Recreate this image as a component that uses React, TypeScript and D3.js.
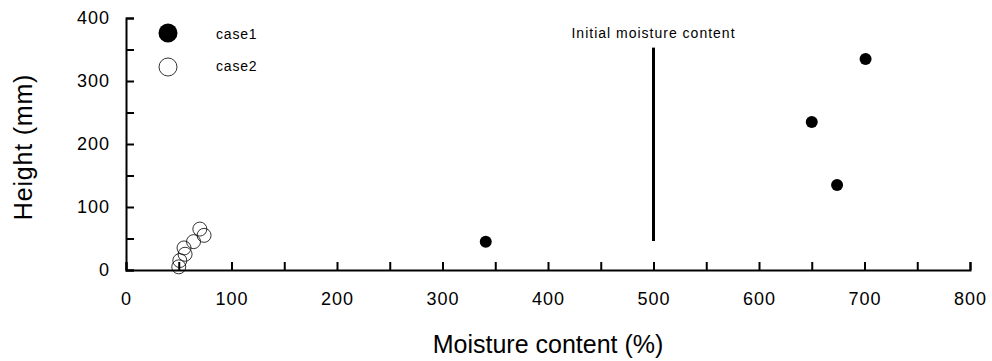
import { useEffect, useRef } from 'react'
import * as d3 from 'd3'

// case1 (filled) and case2 (open) measurements
const case1Moisture = [341, 650, 674, 701]
const case1Height = [45, 235, 135, 335]
const case2Moisture = [50, 51, 56, 55, 64, 70, 74]
const case2Height = [5, 15, 25, 35, 45, 65, 55]

const xTicks = [0, 50, 100, 150, 200, 250, 300, 350, 400, 450, 500, 550, 600, 650, 700, 750, 800]
const yTicks = [0, 50, 100, 150, 200, 250, 300, 350, 400]

const initialMoisture = 500
const initialLineRange = [46, 353]

export default function App() {
  const svgRef = useRef<SVGSVGElement>(null)

  useEffect(() => {
    const width = 992
    const height = 361
    const margin = { top: 18, right: 22, bottom: 91, left: 126 }
    const font = 'Arial, "Liberation Sans", sans-serif'

    const svg = d3.select(svgRef.current)
      .attr('width', width)
      .attr('height', height)
    svg.selectAll('*').remove()

    const x = d3.scaleLinear().domain([0, 800]).range([margin.left, width - margin.right])
    const y = d3.scaleLinear().domain([0, 400]).range([height - margin.bottom, margin.top])

    const g = svg.append('g')

    // X axis
    const xAxis = g.append('g')
      .attr('transform', `translate(0,${y(0)})`)
      .call(d3.axisBottom(x).tickValues(xTicks).tickSize(-8).tickPadding(22)
        .tickFormat(d => (+d % 100 === 0 ? String(d) : '')))
    xAxis.select('.domain').attr('stroke', '#000').attr('stroke-width', 2)
    xAxis.selectAll('line').attr('stroke', '#000').attr('stroke-width', 2)
    xAxis.selectAll('text')
      .attr('font-family', font).attr('font-size', 18).attr('fill', '#000')
      .attr('letter-spacing', 1)

    // Y axis
    const yAxis = g.append('g')
      .attr('transform', `translate(${x(0)},0)`)
      .call(d3.axisLeft(y).tickValues(yTicks).tickSize(-8).tickPadding(16)
        .tickFormat(d => (+d % 100 === 0 ? String(d) : '')))
    yAxis.select('.domain').attr('stroke', '#000').attr('stroke-width', 2)
    yAxis.selectAll('line').attr('stroke', '#000').attr('stroke-width', 2)
    yAxis.selectAll('text')
      .attr('font-family', font).attr('font-size', 18).attr('fill', '#000')
      .attr('letter-spacing', 1)

    // Axis titles
    g.append('text')
      .attr('x', (x(0) + x(800)) / 2)
      .attr('y', 353)
      .attr('text-anchor', 'middle')
      .attr('font-family', font).attr('font-size', 25)
      .text('Moisture content (%)')

    g.append('text')
      .attr('transform', `translate(32,147) rotate(-90)`)
      .attr('text-anchor', 'middle')
      .attr('font-family', font).attr('font-size', 25)
      .attr('letter-spacing', 0.8)
      .text('Height (mm)')

    // Initial moisture line
    g.append('line')
      .attr('x1', x(initialMoisture)).attr('x2', x(initialMoisture))
      .attr('y1', y(initialLineRange[0])).attr('y2', y(initialLineRange[1]))
      .attr('stroke', '#000').attr('stroke-width', 3)
    g.append('text')
      .attr('x', x(initialMoisture))
      .attr('y', 37.5)
      .attr('text-anchor', 'middle')
      .attr('font-family', font).attr('font-size', 14)
      .attr('letter-spacing', 1)
      .text('Initial moisture content')

    // case2 open circles
    g.selectAll('.c2')
      .data(case2Moisture)
      .join('circle')
      .attr('class', 'c2')
      .attr('cx', d => x(d))
      .attr('cy', (d, i) => y(case2Height[i]))
      .attr('r', 7)
      .attr('fill', 'none')
      .attr('stroke', '#000')
      .attr('stroke-width', 0.8)

    // case1 filled circles
    g.selectAll('.c1')
      .data(case1Moisture)
      .join('circle')
      .attr('class', 'c1')
      .attr('cx', d => x(d))
      .attr('cy', (d, i) => y(case1Height[i]))
      .attr('r', 6)
      .attr('fill', '#000')

    // Legend
    const legend = g.append('g')
    legend.append('circle').attr('cx', 168).attr('cy', 33).attr('r', 9.5).attr('fill', '#000')
    legend.append('circle').attr('cx', 168).attr('cy', 67).attr('r', 9)
      .attr('fill', '#fff').attr('stroke', '#000').attr('stroke-width', 0.8)
    legend.append('text').attr('x', 216).attr('y', 38.5)
      .attr('font-family', font).attr('font-size', 14).attr('letter-spacing', 0.8).text('case1')
    legend.append('text').attr('x', 216).attr('y', 71)
      .attr('font-family', font).attr('font-size', 14).attr('letter-spacing', 0.8).text('case2')
  }, [])

  return (
    <svg ref={svgRef} style={{ position: 'absolute', left: 0, top: 0, background: '#fff' }}></svg>
  )
}
